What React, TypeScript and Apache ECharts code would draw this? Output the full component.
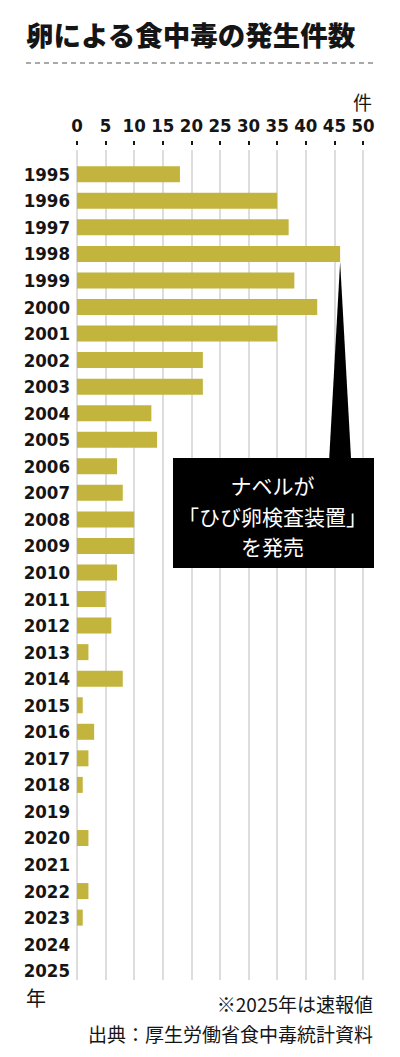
import React, { useEffect, useRef } from "react";
import * as echarts from "echarts";

// 年ごとの件数
const years = [
  "1995", "1996", "1997", "1998", "1999", "2000", "2001", "2002", "2003", "2004",
  "2005", "2006", "2007", "2008", "2009", "2010", "2011", "2012", "2013", "2014",
  "2015", "2016", "2017", "2018", "2019", "2020", "2021", "2022", "2023", "2024", "2025",
];
const counts = [
  18, 35, 37, 46, 38, 42, 35, 22, 22, 13,
  14, 7, 8, 10, 10, 7, 5, 6, 2, 8,
  1, 3, 2, 1, 0, 2, 0, 2, 1, 0, 0,
];
const axisMax = 50;
const axisStep = 5;

const title = "卵による食中毒の発生件数";
const unitLabel = "件";
const yearLabel = "年";
const noteYear = "1998";
const noteLines = ["ナベルが", "「ひび卵検査装置」", "を発売"];
const footnotes = ["※2025年は速報値", "出典：厚生労働省食中毒統計資料"];

const BAR = "#c2b43c";
const INK = "#151515";
const JP = "'Noto Sans CJK JP', 'Noto Sans', sans-serif";
const NUM = "'DejaVu Sans Condensed', 'DejaVu Sans', sans-serif";

const App: React.FC = () => {
  const chartRef = useRef<HTMLDivElement>(null);

  useEffect(() => {
    const chart = echarts.init(chartRef.current, null, { renderer: "svg" });
    const left = 77;
    const right = 37;
    const valueAxis = { type: "value", min: 0, max: axisMax, interval: axisStep };
    const option: any = {
      animation: false,
      grid: [
        { left, right, top: 161, height: 823 }, // 棒
        { left, right, top: 150, height: 830 }, // 目盛線とラベル
        { left, right, top: 141, height: 4 }, // 上部の短い目盛
      ],
      xAxis: [
        { ...valueAxis, gridIndex: 0, show: false },
        {
          ...valueAxis,
          gridIndex: 1,
          position: "top",
          axisLine: { show: false },
          axisTick: { show: false },
          axisLabel: { margin: 15, color: INK, fontFamily: NUM, fontWeight: "bold", fontSize: 18.5 },
          splitLine: { show: true, lineStyle: { color: "#d2d2d2", width: 1.5 } },
        },
        {
          ...valueAxis,
          gridIndex: 2,
          axisLine: { show: false },
          axisTick: { show: false },
          axisLabel: { show: false },
          splitLine: { show: true, lineStyle: { color: INK, width: 2 } },
        },
      ],
      yAxis: [
        {
          gridIndex: 0,
          type: "category",
          data: years,
          inverse: true,
          axisLine: { show: false },
          axisTick: { show: false },
          axisLabel: { margin: 7, color: INK, fontFamily: NUM, fontWeight: "bold", fontSize: 18.5 },
        },
        { gridIndex: 1, type: "value", min: 0, max: 1, show: false },
        { gridIndex: 2, type: "value", min: 0, max: 1, show: false },
      ],
      series: [
        {
          type: "bar",
          xAxisIndex: 0,
          yAxisIndex: 0,
          data: counts,
          barWidth: 16,
          itemStyle: { color: BAR },
          z: 3,
        },
      ],
      graphic: [
        {
          type: "text",
          left: 26,
          top: 20,
          style: { text: title, font: `900 27.5px ${JP}`, fill: INK },
        },
        {
          type: "line",
          shape: { x1: 26, y1: 63, x2: 374, y2: 63 },
          style: { stroke: "#555", lineWidth: 1.2, lineDash: [5, 4] },
        },
        {
          type: "text",
          x: 372,
          y: 101,
          style: { text: unitLabel, font: `19px ${JP}`, fill: INK, align: "right", verticalAlign: "middle" },
        },
        {
          type: "text",
          x: 26,
          y: 997,
          style: { text: yearLabel, font: `20px ${JP}`, fill: INK, verticalAlign: "middle" },
        },
        {
          type: "text",
          x: 373,
          y: 1003,
          style: { text: footnotes[0], font: `19px ${JP}`, fill: INK, align: "right", verticalAlign: "middle" },
        },
        {
          type: "text",
          x: 373,
          y: 1033,
          style: { text: footnotes[1], font: `19px ${JP}`, fill: INK, align: "right", verticalAlign: "middle" },
        },
      ],
    };
    chart.setOption(option);

    // 注記ボックスと、1998年の棒の先端へ伸びる三角形
    const idx = years.indexOf(noteYear);
    const tip = chart.convertToPixel({ xAxisIndex: 0, yAxisIndex: 0 }, [counts[idx], noteYear]);
    const box = { x: 173, y: 458, w: 201, h: 110 };
    chart.setOption({
      graphic: [
        ...option.graphic,
        {
          type: "polygon",
          z: 10,
          shape: {
            points: [
              [tip[0], tip[1] + 8],
              [tip[0] - 11, box.y + 2],
              [tip[0] + 11, box.y + 2],
            ],
          },
          style: { fill: "#000" },
        },
        {
          type: "rect",
          z: 10,
          shape: { x: box.x, y: box.y, width: box.w, height: box.h },
          style: { fill: "#000" },
        },
        ...noteLines.map((t, i) => ({
          type: "text",
          z: 11,
          x: box.x + box.w / 2 - 1,
          y: 485 + i * 30.5,
          style: { text: t, font: `21px ${JP}`, fill: "#fff", align: "center", verticalAlign: "middle" },
        })),
      ],
    });

    return () => {
      chart.dispose();
    };
  }, []);

  return (
    <div
      ref={chartRef}
      style={{ position: "fixed", left: 0, top: 0, width: 400, height: 1057, background: "#fff" }}
    />
  );
};

export default App;
